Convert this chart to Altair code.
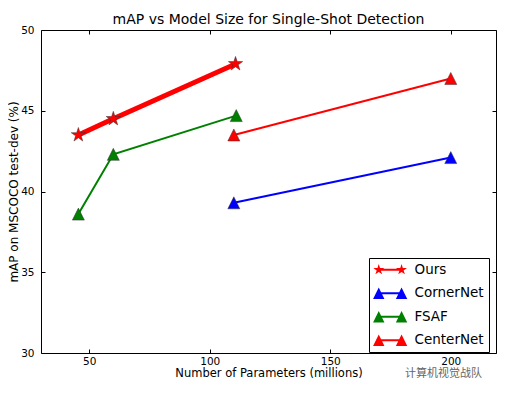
import math
import altair as alt
import pandas as pd

# ---------------- data ----------------
methods = ["Ours", "CornerNet", "FSAF", "CenterNet"]
colors = ["#ff0000", "#0000ff", "#008000", "#ff0000"]

ours_params = [45.5, 60, 110.7]
ours_map = [43.5, 44.5, 47.9]
cornernet_params = [110, 200]
cornernet_map = [39.3, 42.1]
fsaf_params = [45.5, 60, 111]
fsaf_map = [38.6, 42.3, 44.7]
centernet_params = [110, 200]
centernet_map = [43.5, 47.0]

x_ticks = [50, 100, 150, 200]
y_ticks = [30, 35, 40, 45, 50]

title_text = "mAP vs Model Size for Single-Shot Detection"
x_title = "Number of Parameters (millions)"
y_title = "mAP on MSCOCO test-dev (%)"
watermark = ["计算机视觉战队"]

rows = []
for name, xs, ys in [
    ("Ours", ours_params, ours_map),
    ("CornerNet", cornernet_params, cornernet_map),
    ("FSAF", fsaf_params, fsaf_map),
    ("CenterNet", centernet_params, centernet_map),
]:
    for xv, yv in zip(xs, ys):
        rows.append({"method": name, "params": xv, "map": yv})
df = pd.DataFrame(rows)


# ---------------- marker shapes ----------------
def star_path(cx=0.0, r_out=1.0, r_in=0.382):
    pts = []
    for k in range(10):
        r = r_out if k % 2 == 0 else r_in
        a = -math.pi / 2 + k * math.pi / 5
        pts.append((cx + r * math.cos(a), r * math.sin(a)))
    return "M" + "L".join(f"{px:.3f},{py:.3f}" for px, py in pts) + "Z"


def tri_path(cx=0.0):
    return f"M{cx},-1L{cx + 1},1L{cx - 1},1Z"


gap = 4.0
bar = f"M0,-0.18L{gap},-0.18L{gap},0.18L0,0.18Z"
legend_star = star_path(0) + bar + star_path(gap)
legend_tri = tri_path(0) + bar + tri_path(gap)
legend_shapes = [legend_star, legend_tri, legend_tri, legend_tri]

# ---------------- scales / axes ----------------
# plot is 455 px wide (page limit); domain end chosen so 190 units would span 458 px
x_scale = alt.Scale(domain=[30, 218.76], nice=False, zero=False)
y_scale = alt.Scale(domain=[30, 50], nice=False, zero=False)
legend_color_scale = alt.Scale(domain=methods, range=colors)
# scale for the non-"Ours" series (separate domain so it does not merge with the legend)
other_methods = methods[1:]
other_scale = alt.Scale(domain=other_methods, range=colors[1:])

axis_common = dict(
    grid=False, domain=False, tickColor="black", tickSize=4, tickWidth=1,
    offset=-4, labelColor="black", labelFont="DejaVu Sans", labelFontSize=10.5,
    titleFont="DejaVu Sans", titleFontWeight="normal", titleColor="black",
)
x_axis = alt.Axis(orient="bottom", values=x_ticks, labelPadding=3,
                  title=x_title, titlePadding=1, titleFontSize=11.5, **axis_common)
y_axis = alt.Axis(orient="left", values=y_ticks, labelPadding=7,
                  title=y_title, titlePadding=0, titleFontSize=12, **axis_common)
x_axis_top = alt.Axis(orient="top", values=x_ticks, labels=False, title=None,
                      grid=False, domain=False, tickColor="black", tickSize=4,
                      tickWidth=1, offset=-4)
y_axis_right = alt.Axis(orient="right", values=y_ticks, labels=False, title=None,
                        grid=False, domain=False, tickColor="black", tickSize=4,
                        tickWidth=1, offset=-4)

base = alt.Chart(df)
X = lambda ax: alt.X("params:Q", scale=x_scale, axis=ax)
Y = lambda ax: alt.Y("map:Q", scale=y_scale, axis=ax)

others = base.transform_filter(alt.datum.method != "Ours")
ours = base.transform_filter(alt.datum.method == "Ours")

lines_other = others.mark_line(strokeWidth=2).encode(
    x=X(x_axis), y=Y(y_axis),
    stroke=alt.Stroke("method:N", scale=other_scale, legend=None),
)
tri_points = others.mark_point(
    filled=True, size=144, shape=tri_path(), stroke="#333333",
    strokeWidth=0.5, opacity=1,
).encode(
    x=X(None), y=Y(None),
    fill=alt.Fill("method:N", scale=other_scale, legend=None),
)
ours_line = ours.mark_line(strokeWidth=5, color="#ff0000").encode(
    x=X(None), y=Y(None)
)
ours_points = ours.mark_point(
    filled=True, size=225, shape=star_path(), fill="#ff0000",
    stroke="#333333", strokeWidth=0.5, opacity=1,
).encode(x=X(None), y=Y(None))

legend = alt.Legend(
    title=None, orient="none", legendX=328, legendY=228, padding=5,
    strokeColor="black", fillColor="white", labelFont="DejaVu Sans",
    labelFontSize=13.5, labelColor="black", symbolSize=130, labelOffset=29,
    symbolOffset=-2, rowPadding=8.5, symbolStrokeWidth=0, symbolOpacity=1,
    cornerRadius=0, labelLimit=200,
)
# carrier layer (no rows) for the legend and the top/right tick axes
legend_layer = base.transform_filter("false").mark_point(filled=True, size=130).encode(
    x=X(x_axis_top), y=Y(y_axis_right),
    color=alt.Color("method:N", scale=legend_color_scale, legend=legend),
    shape=alt.Shape("method:N", scale=alt.Scale(domain=methods, range=legend_shapes),
                    legend=legend),
)

wm = alt.Chart(pd.DataFrame({"t": watermark})).mark_text(
    align="left", baseline="middle", font="Noto Sans CJK SC", fontSize=11,
    color="#666666",
).encode(x=alt.value(364), y=alt.value(344), text="t:N")

chart = alt.layer(
    lines_other, tri_points, ours_line, ours_points, legend_layer, wm
).resolve_axis(x="independent", y="independent").properties(
    width=455, height=323,
    title=alt.TitleParams(title_text, font="DejaVu Sans", fontSize=14,
                          fontWeight="normal", color="black", anchor="middle",
                          offset=4, dy=6),
    autosize=alt.AutoSizeParams(type="none"),
    padding={"left": 33, "top": 22, "right": 1, "bottom": 29},
).configure_view(stroke="black", strokeWidth=1)

chart.save("out.html", embed_options={"renderer": "svg", "actions": False})
